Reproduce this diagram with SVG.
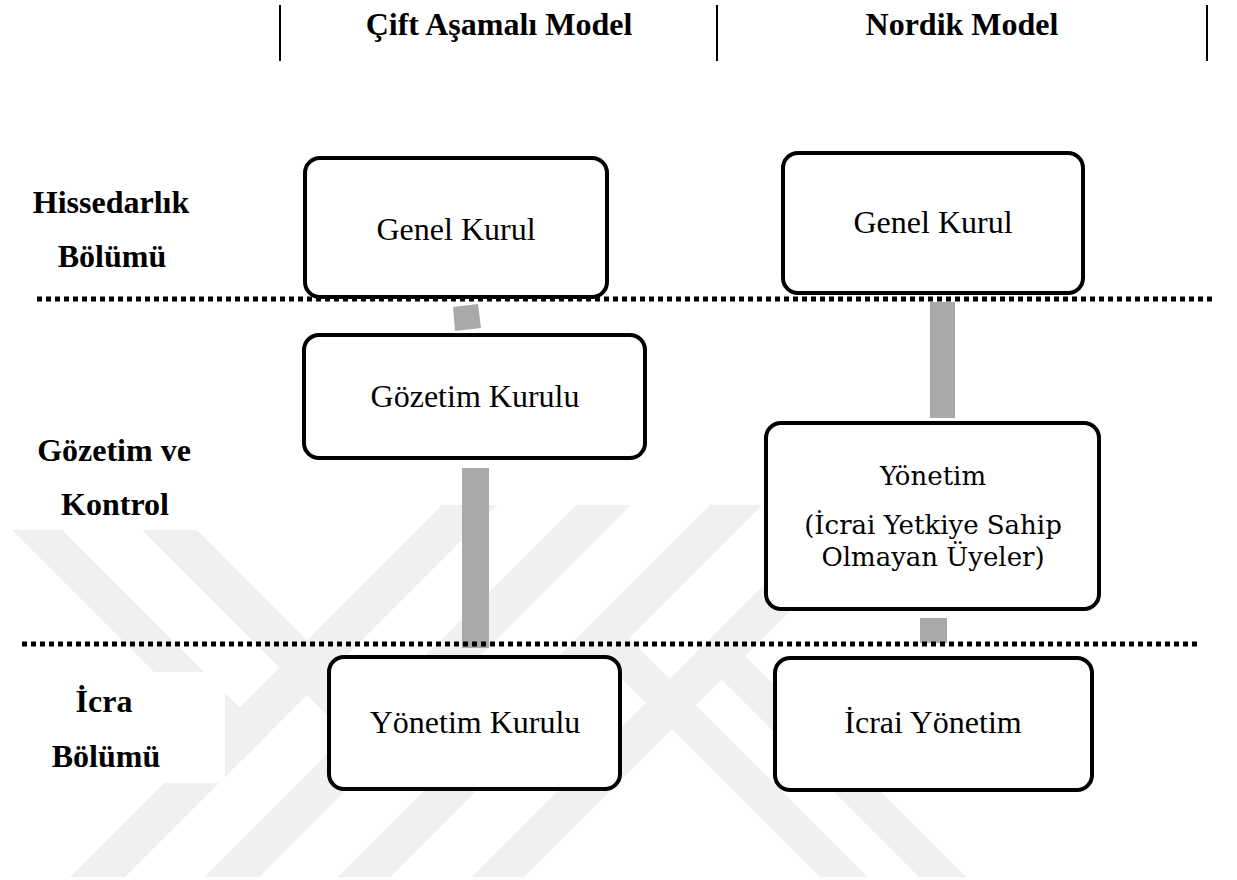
<svg xmlns="http://www.w3.org/2000/svg" width="1237" height="880" viewBox="0 0 1237 880">
<style>
.box{fill:#ffffff;stroke:#000000;stroke-width:4}
.t{font-family:"Liberation Serif","Times New Roman",serif;font-size:32px;text-anchor:middle;fill:#000000}
.b{font-weight:bold}
.c{font-family:"DejaVu Serif",serif;font-size:26px;text-anchor:middle;fill:#000000}
.dot{stroke:#000000;stroke-width:5;stroke-dasharray:5 4;fill:none}
.bar{fill:#a9a9a9}
.wm{fill:#f0f0f0}
.hl{stroke:#000000;stroke-width:2}
</style>
<rect width="1237" height="880" fill="#ffffff"/>
<g id="watermark">
<polygon class="wm" points="442,505 497,505 125,877 70,877"/>
<polygon class="wm" points="576,505 631,505 259,877 204,877"/>
<polygon class="wm" points="710,505 762,505 390,877 338,877"/>
<polygon class="wm" points="844,505 896,505 524,877 472,877"/>
<polygon class="wm" points="12,530 62,530 267,735 242,760"/>
<polygon class="wm" points="142,530 197,530 401,735 374,762"/>
<polygon class="wm" points="579,636 603,612 868,877 820,877"/>
<polygon class="wm" points="695,653 719,630 966,877 919,877"/>
<rect x="0" y="672" width="225" height="111" fill="#ffffff"/>
</g>
<g id="header">
<line class="hl" x1="280" y1="5" x2="280" y2="61"/>
<line class="hl" x1="717" y1="5" x2="717" y2="61"/>
<line class="hl" x1="1207" y1="5" x2="1207" y2="61"/>
<text class="t b" x="499" y="35">Çift Aşamalı Model</text>
<text class="t b" x="962" y="35">Nordik Model</text>
</g>
<g id="row-labels">
<text class="t b" x="111" y="213">Hissedarlık</text>
<text class="t b" x="112" y="267">Bölümü</text>
<text class="t b" x="114" y="461">Gözetim ve</text>
<text class="t b" x="115" y="515">Kontrol</text>
<text class="t b" x="104" y="712">İcra</text>
<text class="t b" x="106" y="767">Bölümü</text>
</g>
<g id="connectors">
<polygon class="bar" points="453,307 478,304 481,328 455,331"/>
<rect class="bar" x="462" y="468" width="27" height="180"/>
<rect class="bar" x="930" y="302" width="25" height="116"/>
<rect class="bar" x="920" y="618" width="27" height="25"/>
</g>
<g id="dividers">
<line class="dot" x1="37" y1="299" x2="1215" y2="299"/>
<line class="dot" x1="22" y1="644" x2="1200" y2="644"/>
</g>
<g id="n-genel-kurul-1">
<rect class="box" x="305" y="158" width="302" height="139" rx="15"/>
<text class="t" x="456" y="240">Genel Kurul</text>
</g>
<g id="n-gozetim-kurulu">
<rect class="box" x="304" y="335" width="341" height="123" rx="15"/>
<text class="t" x="475" y="407">Gözetim Kurulu</text>
</g>
<g id="n-yonetim-kurulu">
<rect class="box" x="329" y="657" width="291" height="132" rx="15"/>
<text class="t" x="475" y="733">Yönetim Kurulu</text>
</g>
<g id="n-genel-kurul-2">
<rect class="box" x="783" y="153" width="300" height="140" rx="15"/>
<text class="t" x="933" y="233">Genel Kurul</text>
</g>
<g id="n-yonetim">
<rect class="box" x="766" y="423" width="333" height="186" rx="15"/>
<text class="c" x="933" y="485">Yönetim</text>
<text class="c" x="933" y="534">(İcrai Yetkiye Sahip</text>
<text class="c" x="933" y="566">Olmayan Üyeler)</text>
</g>
<g id="n-icrai-yonetim">
<rect class="box" x="775" y="658" width="317" height="132" rx="15"/>
<text class="t" x="933" y="733">İcrai Yönetim</text>
</g>
</svg>
